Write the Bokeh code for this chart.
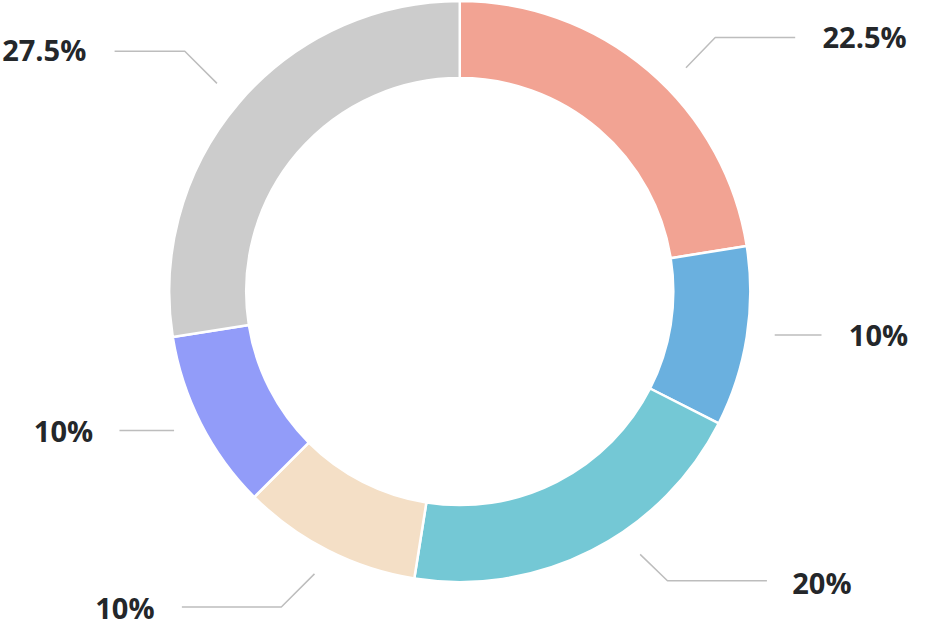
import numpy as np
from bokeh.plotting import figure
from bokeh.models import Range1d, ColumnDataSource
from bokeh.core.properties import value
from bokeh.embed import file_html
from bokeh.resources import INLINE

# ---- data (clockwise from 12 o'clock) ----
labels = ["22.5%", "10%", "20%", "10%", "10%", "27.5%"]
values = [22.5, 10, 20, 10, 10, 27.5]
colors = ["#F2A393", "#6AB0DF", "#74C8D5", "#F4DFC6", "#929CF9", "#CCCCCC"]

# ---- layout (reference pixel space, y downward) ----
cx, cy = 471, 298.5
r_outer, r_inner = 298, 219
# leader polylines per slice
leaders = [
    [(703, 69), (733, 38), (815, 38)],
    [(794, 343), (842, 343)],
    [(656, 568), (684, 595), (786, 595)],
    [(322, 588), (288, 622), (186, 622)],
    [(178, 441), (122, 441)],
    [(222, 85), (189, 52), (117, 52)],
]
# label anchor: (x, vertical centre y, align)
label_pos = [
    (843, 37, "left"),
    (870, 342.5, "left"),
    (812, 596.5, "left"),
    (158, 622.5, "right"),
    (95, 441.5, "right"),
    (88, 50.5, "right"),
]

vals = np.array(values, dtype=float)
frac = vals / vals.sum()
clock_end = np.cumsum(frac) * 360.0
clock_start = clock_end - frac * 360.0
start_angle = np.deg2rad(90.0 - clock_end)
end_angle = np.deg2rad(90.0 - clock_start)

W, H = 922, 626
k = H / 642.0
p = figure(
    width=W, height=H,
    x_range=Range1d(0, W / k),
    y_range=Range1d(-642, 0),
    output_backend="svg", toolbar_location=None,
    min_border=0, outline_line_color=None,
)
p.axis.visible = False
p.grid.visible = False
p.background_fill_color = "white"
p.border_fill_color = "white"

src = ColumnDataSource(dict(
    start=start_angle, end=end_angle, color=colors,
    x=[cx] * len(values), y=[-cy] * len(values),
))
p.annular_wedge(x="x", y="y", inner_radius=r_inner, outer_radius=r_outer,
                start_angle="start", end_angle="end", fill_color="color",
                line_color="white", line_width=2.5, source=src)

p.multi_line(xs=[[pt[0] for pt in l] for l in leaders],
             ys=[[-pt[1] for pt in l] for l in leaders],
             line_color="#BDBDBD", line_width=1.5)

for align in ("left", "right"):
    idx = [i for i, lp in enumerate(label_pos) if lp[2] == align]
    p.text(x=[label_pos[i][0] for i in idx],
           y=[-label_pos[i][1] for i in idx],
           text=[labels[i] for i in idx],
           text_align=align, text_baseline="middle",
           text_font=value("Open Sans"), text_font_style="bold",
           text_font_size="29px", text_color="#24272A")

open("out.html", "w").write(file_html(p, INLINE))
